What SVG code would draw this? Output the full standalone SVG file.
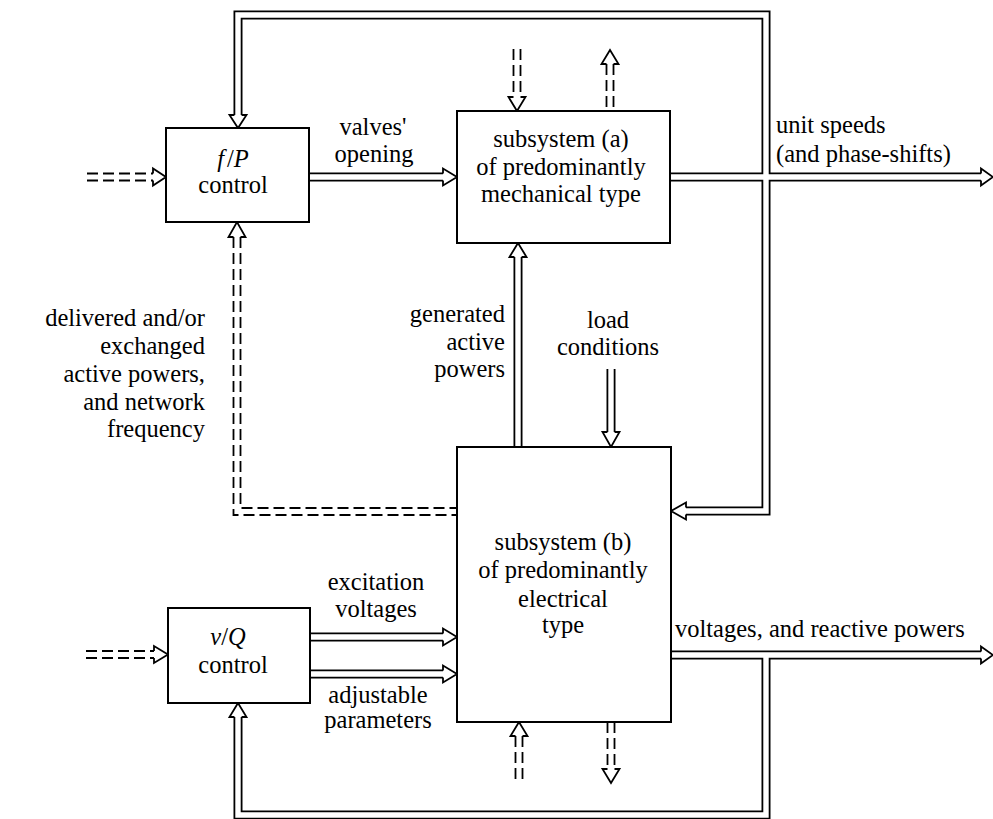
<svg xmlns="http://www.w3.org/2000/svg" width="993" height="819" viewBox="0 0 993 819">
<rect width="993" height="819" fill="#fff"/>
<g id="connectors">
  <g fill="none" stroke="#000" stroke-width="9" stroke-linejoin="miter">
    <path d="M309,177 H443"/>
    <path d="M670,177 H981"/>
    <path d="M238,115 V15 H766 V511 H686"/>
    <path d="M518,447 V257"/>
    <path d="M611,369 V432"/>
    <path d="M310,637 H443"/>
    <path d="M310,674 H443"/>
    <path d="M671,655 H981"/>
    <path d="M766,655 V815 H238 V717"/>
  </g>
  <g fill="none" stroke="#fff" stroke-width="5.4" stroke-linejoin="miter">
    <path d="M309,177 H443"/>
    <path d="M670,177 H981"/>
    <path d="M238,115 V15 H766 V511 H686"/>
    <path d="M518,447 V257"/>
    <path d="M611,369 V432"/>
    <path d="M310,637 H443"/>
    <path d="M310,674 H443"/>
    <path d="M671,655 H981"/>
    <path d="M766,655 V815 H238 V717"/>
  </g>
  <g fill="none" stroke="#000" stroke-width="1.8" stroke-dasharray="11 5">
    <path d="M87,173.5 H153"/><path d="M87,180.5 H153"/>
    <path d="M86,651 H154"/><path d="M86,658 H154"/>
    <path d="M513.5,49 V97"/><path d="M520.5,49 V97"/>
    <path d="M606.5,64 V111"/><path d="M613.5,64 V111"/>
    <path d="M515.5,736 V783"/><path d="M522.5,736 V783"/>
    <path d="M607.5,722 V769"/><path d="M614.5,722 V769"/>
    <path d="M233.5,237 V515 H457"/><path d="M240.5,237 V508 H457"/>
  </g>
  <g fill="#fff" stroke="#000" stroke-width="1.8" stroke-linejoin="miter">
    <path d="M443,173.4 L443,168.5 L457,177 L443,185.5 L443,180.6"/>
    <path d="M981,173.4 L981,168.5 L993,177 L981,185.5 L981,180.6"/>
    <path d="M234.4,115 L229.5,115 L238,128 L246.5,115 L241.6,115"/>
    <path d="M686,507.4 L686,502.5 L671,511 L686,519.5 L686,514.6"/>
    <path d="M514.4,257 L509.5,257 L518,243 L526.5,257 L521.6,257"/>
    <path d="M607.4,432 L602.5,432 L611,447 L619.5,432 L614.6,432"/>
    <path d="M443,633.4 L443,628.5 L457,637 L443,645.5 L443,640.6"/>
    <path d="M443,670.4 L443,665.5 L457,674 L443,682.5 L443,677.6"/>
    <path d="M234.4,717 L229.5,717 L238,703 L246.5,717 L241.6,717"/>
    <path d="M981,651.4 L981,646.5 L993,655 L981,663.5 L981,658.6"/>
    <path d="M153,173.5 L153,168.5 L166,177 L153,185.5 L153,180.5"/>
    <path d="M154,651 L154,646 L168,654.5 L154,663 L154,658"/>
    <path d="M513.5,97 L508.5,97 L517,111 L525.5,97 L520.5,97"/>
    <path d="M606.5,64 L601.5,64 L610,50 L618.5,64 L613.5,64"/>
    <path d="M515.5,736 L510.5,736 L519,722 L527.5,736 L522.5,736"/>
    <path d="M607.5,769 L602.5,769 L611,783 L619.5,769 L614.5,769"/>
    <path d="M233.5,237 L228.5,237 L237,222 L245.5,237 L240.5,237"/>
  </g>
  <text font-family="Liberation Serif" font-size="24.5" text-anchor="middle" x="373" y="135">valves'</text>
  <text font-family="Liberation Serif" font-size="24.5" text-anchor="middle" x="374" y="162">opening</text>
  <text font-family="Liberation Serif" font-size="24.5" x="776" y="133">unit speeds</text>
  <text font-family="Liberation Serif" font-size="24.5" x="776" y="162">(and phase-shifts)</text>
  <text font-family="Liberation Serif" font-size="24.5" text-anchor="end" x="205" y="326">delivered and/or</text>
  <text font-family="Liberation Serif" font-size="24.5" text-anchor="end" x="205" y="354">exchanged</text>
  <text font-family="Liberation Serif" font-size="24.5" text-anchor="end" x="205" y="382">active powers,</text>
  <text font-family="Liberation Serif" font-size="24.5" text-anchor="end" x="205" y="410">and network</text>
  <text font-family="Liberation Serif" font-size="24.5" text-anchor="end" x="205" y="437">frequency</text>
  <text font-family="Liberation Serif" font-size="24.5" text-anchor="end" x="505" y="322">generated</text>
  <text font-family="Liberation Serif" font-size="24.5" text-anchor="end" x="505" y="350">active</text>
  <text font-family="Liberation Serif" font-size="24.5" text-anchor="end" x="505" y="377">powers</text>
  <text font-family="Liberation Serif" font-size="24.5" text-anchor="middle" x="608" y="328">load</text>
  <text font-family="Liberation Serif" font-size="24.5" text-anchor="middle" x="608" y="355">conditions</text>
  <text font-family="Liberation Serif" font-size="24.5" text-anchor="middle" x="376" y="590">excitation</text>
  <text font-family="Liberation Serif" font-size="24.5" text-anchor="middle" x="376" y="617">voltages</text>
  <text font-family="Liberation Serif" font-size="24.5" text-anchor="middle" x="378" y="703">adjustable</text>
  <text font-family="Liberation Serif" font-size="24.5" text-anchor="middle" x="378" y="728">parameters</text>
  <text font-family="Liberation Serif" font-size="24.5" x="675" y="637">voltages, and reactive powers</text>
</g>
<g id="fp-control">
  <rect fill="#fff" stroke="#000" stroke-width="2" x="166" y="128" width="143" height="94"/>
  <text font-family="Liberation Serif" font-size="24.5" text-anchor="middle" x="233" y="167"><tspan font-style="italic">f</tspan><tspan dx="3">/</tspan><tspan font-style="italic">P</tspan></text>
  <text font-family="Liberation Serif" font-size="24.5" text-anchor="middle" x="233" y="193">control</text>
</g>
<g id="subsystem-a">
  <rect fill="#fff" stroke="#000" stroke-width="2" x="457" y="111" width="213" height="132"/>
  <text font-family="Liberation Serif" font-size="24.5" text-anchor="middle" x="561" y="147">subsystem (a)</text>
  <text font-family="Liberation Serif" font-size="24.5" text-anchor="middle" x="561" y="175">of predominantly</text>
  <text font-family="Liberation Serif" font-size="24.5" text-anchor="middle" x="561" y="202">mechanical type</text>
</g>
<g id="subsystem-b">
  <rect fill="#fff" stroke="#000" stroke-width="2" x="457" y="447" width="214" height="275"/>
  <text font-family="Liberation Serif" font-size="24.5" text-anchor="middle" x="563" y="550">subsystem (b)</text>
  <text font-family="Liberation Serif" font-size="24.5" text-anchor="middle" x="563" y="578">of predominantly</text>
  <text font-family="Liberation Serif" font-size="24.5" text-anchor="middle" x="563" y="607">electrical</text>
  <text font-family="Liberation Serif" font-size="24.5" text-anchor="middle" x="563" y="633">type</text>
</g>
<g id="vq-control">
  <rect fill="#fff" stroke="#000" stroke-width="2" x="168" y="608" width="142" height="95"/>
  <text font-family="Liberation Serif" font-size="24.5" text-anchor="middle" x="228" y="645"><tspan font-style="italic">v</tspan>/<tspan font-style="italic">Q</tspan></text>
  <text font-family="Liberation Serif" font-size="24.5" text-anchor="middle" x="233" y="673">control</text>
</g>
</svg>
